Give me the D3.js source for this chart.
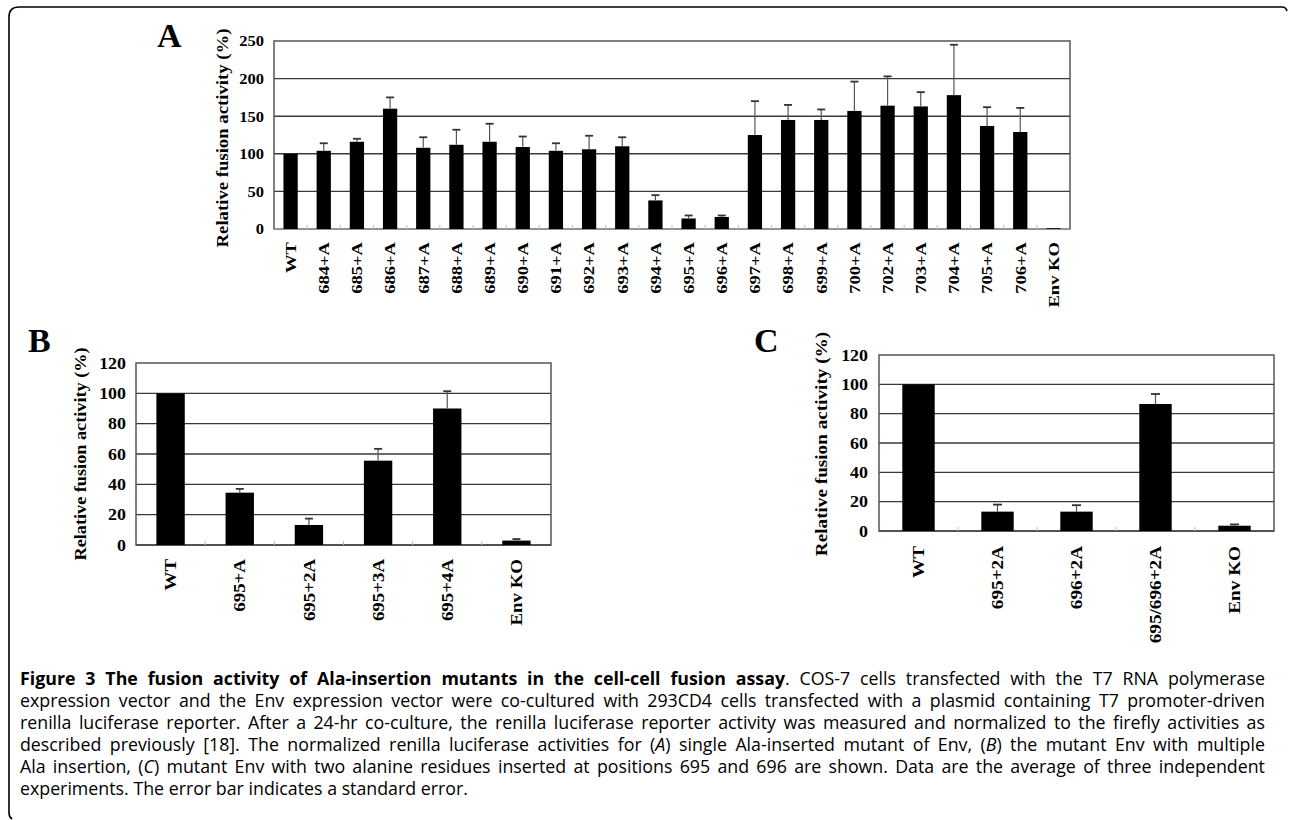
<!DOCTYPE html>
<html><head><meta charset="utf-8">
<script src="https://cdn.jsdelivr.net/npm/d3@7"></script>
<style>body{margin:0;background:#fff;} svg{display:block}</style>
</head><body>
<svg id="fig" width="1290" height="820"></svg>
<script>
// ---------- data ----------
const catsA = ["WT","684+A","685+A","686+A","687+A","688+A","689+A","690+A","691+A","692+A","693+A","694+A","695+A","696+A","697+A","698+A","699+A","700+A","702+A","703+A","704+A","705+A","706+A","Env KO"];
const valsA = [100,104,116,160,108,112,116,109,104,106,110,38,14,16,125,145,145,157,164,163,178,137,129,1];
const errA  = [0,10,4,15,14,20,24,14,10,18,12,7,4,2,45,20,14,39,39,19,67,25,32,0];
const ticksA = [0,50,100,150,200,250];

const catsB = ["WT","695+A","695+2A","695+3A","695+4A","Env KO"];
const valsB = [100,34.5,13.2,55.6,90,2.9];
const errB  = [0,2.5,4.2,7.8,11.4,1];
const ticksB = [0,20,40,60,80,100,120];

const catsC = ["WT","695+2A","696+2A","695/696+2A","Env KO"];
const valsC = [100,13.2,13.2,86.6,3.6];
const errC  = [0,4.8,4.4,6.8,0.9];
const ticksC = [0,20,40,60,80,100,120];

const yTitle = "Relative fusion activity (%)";
const captionLines = [
  "**Figure 3 The fusion activity of Ala-insertion mutants in the cell-cell fusion assay**. COS-7 cells transfected with the T7 RNA polymerase",
  "expression vector and the Env expression vector were co-cultured with 293CD4 cells transfected with a plasmid containing T7 promoter-driven",
  "renilla luciferase reporter. After a 24-hr co-culture, the renilla luciferase reporter activity was measured and normalized to the firefly activities as",
  "described previously [18]. The normalized renilla luciferase activities for (_A_) single Ala-inserted mutant of Env, (_B_) the mutant Env with multiple",
  "Ala insertion, (_C_) mutant Env with two alanine residues inserted at positions 695 and 696 are shown. Data are the average of three independent",
  "experiments. The error bar indicates a standard error."
];

// ---------- drawing ----------
const svg = d3.select("#fig");
const SERIF = "'Liberation Serif','Times New Roman',serif";

// outer frame
svg.append("path")
  .attr("d","M1287,11 Q1286,7 1282,7 L19,7 Q9,7 9,17 L9,813 Q9,817 12,819")
  .attr("fill","none").attr("stroke","#000").attr("stroke-width",1.6);

function panel(c){
  const g = svg.append("g");
  const x = d3.scaleBand().domain(c.cats).range([c.left,c.right]).paddingInner(c.padIn).paddingOuter(c.padIn/2);
  const y = d3.scaleLinear().domain([0,c.max]).range([c.bottom,c.top]);
  // gridlines
  g.append("g").selectAll("line").data(c.ticks.filter(t=>t>0 && t<c.max)).join("line")
    .attr("x1",c.left).attr("x2",c.right).attr("y1",d=>y(d)).attr("y2",d=>y(d))
    .attr("stroke","#3a3a3a").attr("stroke-width",1.4);
  // border
  g.append("rect").attr("x",c.left).attr("y",c.top).attr("width",c.right-c.left).attr("height",c.bottom-c.top)
    .attr("fill","none").attr("stroke","#555").attr("stroke-width",1.5);
  g.append("line").attr("x1",c.left).attr("x2",c.right).attr("y1",c.bottom).attr("y2",c.bottom)
    .attr("stroke",c.axisColor).attr("stroke-width",1.5);
  // category boundary ticks
  const step = (c.right-c.left)/c.cats.length;
  g.append("g").selectAll("line").data(d3.range(1,c.cats.length)).join("line")
    .attr("x1",d=>c.left+d*step).attr("x2",d=>c.left+d*step)
    .attr("y1",c.bottom).attr("y2",c.bottom-4).attr("stroke","#bbb").attr("stroke-width",1);
  // bars
  g.append("g").selectAll("rect").data(c.vals).join("rect")
    .attr("x",(d,i)=>x(c.cats[i])).attr("width",x.bandwidth())
    .attr("y",d=>y(d)).attr("height",d=>c.bottom-y(d)).attr("fill","#000");
  // error bars
  const eb = g.append("g").attr("stroke","#555").attr("stroke-width",1.2);
  c.vals.forEach((v,i)=>{
    if(!c.errs[i]) return;
    const cx = x(c.cats[i])+x.bandwidth()/2;
    eb.append("line").attr("x1",cx).attr("x2",cx).attr("y1",y(v)).attr("y2",y(v+c.errs[i]));
    eb.append("line").attr("x1",cx-c.capW/2).attr("x2",cx+c.capW/2).attr("y1",y(v+c.errs[i])).attr("y2",y(v+c.errs[i])).attr("stroke","#333").attr("stroke-width",1.8);
  });
  // y axis labels
  const ya = g.append("g").attr("transform",`translate(${c.left},0)`)
    .call(d3.axisLeft(y).tickValues(c.ticks).tickSize(0).tickPadding(c.tickPad).tickFormat(d3.format("d")));
  ya.select(".domain").remove();
  ya.selectAll("text").attr("x",-c.tickPad/c.tickStretch).attr("transform",`scale(${c.tickStretch},1)`)
    .attr("font-family",SERIF).attr("font-weight","bold").attr("font-size",c.tickFont).attr("fill","#000");
  // x axis labels
  const xa = g.append("g").attr("transform",`translate(0,${c.bottom})`)
    .call(d3.axisBottom(x).tickSize(0));
  xa.select(".domain").remove();
  xa.selectAll("text").attr("transform",`rotate(-90) scale(${c.labelStretch},1)`).attr("x",-c.labelGap/c.labelStretch).attr("y",0).attr("dy","0.35em")
    .style("text-anchor","end").attr("font-family",SERIF).attr("font-weight","bold").attr("font-size",c.labelFont).attr("fill","#000");
  // y title
  g.append("text").attr("transform",`translate(${c.titleX},${c.titleY}) rotate(-90) scale(${c.titleStretch},1)`)
    .attr("text-anchor","middle").attr("dy","0.35em").attr("font-family",SERIF).attr("font-weight","bold")
    .attr("font-size",c.titleFont).text(yTitle);
  // panel letter
  g.append("text").attr("x",c.letterX).attr("y",c.letterY).attr("font-family",SERIF).attr("font-weight","bold")
    .attr("font-size",c.letterFont).text(c.letter);
}

panel({cats:catsA, vals:valsA, errs:errA, ticks:ticksA, max:250, left:274, right:1070, top:41, bottom:229,
  padIn:0.57, capW:8, tickPad:10, tickFont:15, tickStretch:1.1, labelGap:13, labelFont:15, labelStretch:1.24,
  titleX:222, titleY:138, titleFont:16, titleStretch:1.17,
  letter:"A", letterX:157, letterY:47, letterFont:34, axisColor:"#999"});
panel({cats:catsB, vals:valsB, errs:errB, ticks:ticksB, max:120, left:136, right:551, top:363, bottom:545,
  padIn:0.59, capW:8, tickPad:10, tickFont:16, tickStretch:1.12, labelGap:14, labelFont:16, labelStretch:1.18,
  titleX:80, titleY:454, titleFont:16, titleStretch:1.14,
  letter:"B", letterX:28, letterY:352, letterFont:34, axisColor:"#444"});
panel({cats:catsC, vals:valsC, errs:errC, ticks:ticksC, max:120, left:879, right:1274, top:355, bottom:531,
  padIn:0.59, capW:9, tickPad:11, tickFont:16, tickStretch:1.12, labelGap:15, labelFont:16, labelStretch:1.2,
  titleX:821, titleY:444, titleFont:16, titleStretch:1.2,
  letter:"C", letterX:754, letterY:352, letterFont:34, axisColor:"#444"});

// ---------- caption ----------
function parseLine(s){
  const words=[]; let cur=[]; let b=false, it=false, buf="";
  const flush=()=>{ if(buf){cur.push({t:buf,b,i:it}); buf="";} };
  for(let k=0;k<s.length;k++){
    if(s.startsWith("**",k)){ flush(); b=!b; k++; continue; }
    const ch=s[k];
    if(ch==="_"){ flush(); it=!it; continue; }
    if(ch===" "){ flush(); if(cur.length) words.push(cur); cur=[]; continue; }
    buf+=ch;
  }
  flush(); if(cur.length) words.push(cur);
  return words;
}
const capFont = 17.5, capX0 = 20, capX1 = 1265, capLastEnd = 468, capY0 = 685, capDY = 22;
const capOuter = svg.append("g").attr("transform",`translate(${capX0},0)`);
const cap = capOuter.append("g").attr("font-family","'Open Sans',sans-serif").attr("font-size",capFont).attr("fill","#000");
const spaceW = capFont*0.26;
const built = captionLines.map((line,li)=>{
  const words = parseLine(line);
  const els = words.map(w=>{
    const t = cap.append("text").attr("y",capY0+li*capDY);
    w.forEach(r=>t.append("tspan").attr("font-weight",r.b?"bold":"normal").attr("font-style",r.i?"italic":"normal").text(r.t));
    return t;
  });
  const widths = els.map(e=>e.node().getComputedTextLength());
  return {els,widths};
});
const last = built[built.length-1];
const lastW = d3.sum(last.widths)+spaceW*(last.widths.length-1);
const sx = (capLastEnd-capX0)/lastW;
cap.attr("transform",`scale(${sx},1)`);
const avail = (capX1-capX0)/sx;
built.forEach((b,li)=>{
  const total = d3.sum(b.widths);
  const justify = li < built.length-1;
  const space = justify ? (avail-total)/(b.widths.length-1) : spaceW;
  let xx = 0;
  b.els.forEach((e,i)=>{ e.attr("x",xx); xx += b.widths[i]+space; });
});
</script>
</body></html>
